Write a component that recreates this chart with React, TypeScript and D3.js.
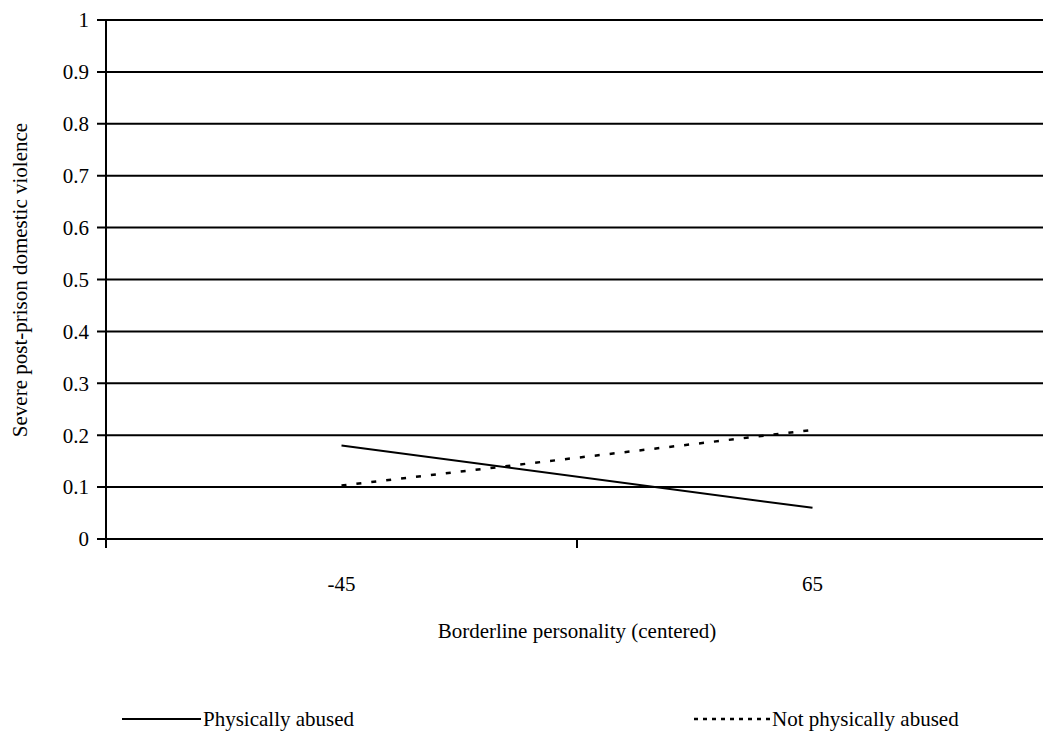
import React, { useEffect, useRef } from "react";
import * as d3 from "d3";

const categories = ["-45", "65"];
const physicallyAbused = [0.18, 0.06];
const notPhysicallyAbused = [0.103, 0.21];
const yTicks = [0, 0.1, 0.2, 0.3, 0.4, 0.5, 0.6, 0.7, 0.8, 0.9, 1];
const yTickLabels = ["0", "0.1", "0.2", "0.3", "0.4", "0.5", "0.6", "0.7", "0.8", "0.9", "1"];
const seriesNames = ["Physically abused", "Not physically abused"];

const W = 1043;
const H = 744;
const FONT = '"Liberation Serif", "Times New Roman", Tinos, serif';

export default function App() {
  const ref = useRef<SVGSVGElement>(null);

  useEffect(() => {
    const svg = d3.select(ref.current);
    svg.selectAll("*").remove();
    const x = d3.scaleBand<string>().domain(categories).range([106, 1048]).padding(0);
    const y = d3.scaleLinear().domain([0, 1]).range([539, 20]);
    const cx = (i: number) => (x(categories[i]) as number) + x.bandwidth() / 2;
    const line = d3
      .line<number>()
      .x((_, i) => cx(i))
      .y((d) => y(d));

    svg.append("rect").attr("width", W).attr("height", H).attr("fill", "#fff");

    const addText = (sel: any) =>
      sel.style("font-family", FONT).style("font-size", "21px").attr("fill", "#000");

    yTicks.forEach((t, i) => {
      svg
        .append("line")
        .attr("x1", 97)
        .attr("x2", 1048)
        .attr("y1", y(t))
        .attr("y2", y(t))
        .attr("stroke", "#000")
        .attr("stroke-width", 2);
      addText(
        svg
          .append("text")
          .attr("x", 89)
          .attr("y", y(t))
          .attr("dy", "0.35em")
          .attr("text-anchor", "end")
          .text(yTickLabels[i])
      );
    });

    svg
      .append("line")
      .attr("x1", 106)
      .attr("x2", 106)
      .attr("y1", y(1))
      .attr("y2", 548)
      .attr("stroke", "#000")
      .attr("stroke-width", 2);
    [0, 1, 2].forEach((k) => {
      const b = 106 + k * x.bandwidth();
      svg
        .append("line")
        .attr("x1", b)
        .attr("x2", b)
        .attr("y1", 539)
        .attr("y2", 548)
        .attr("stroke", "#000")
        .attr("stroke-width", 2);
    });
    categories.forEach((c, i) => {
      addText(svg.append("text").attr("x", cx(i)).attr("y", 591).attr("text-anchor", "middle").text(c));
    });
    addText(
      svg
        .append("text")
        .attr("x", 577)
        .attr("y", 638)
        .attr("text-anchor", "middle")
        .text("Borderline personality (centered)")
    );
    addText(
      svg
        .append("text")
        .attr("transform", "translate(27,280) rotate(-90)")
        .attr("text-anchor", "middle")
        .text("Severe post-prison domestic violence")
    );

    svg
      .append("path")
      .attr("d", line(physicallyAbused) || "")
      .attr("fill", "none")
      .attr("stroke", "#000")
      .attr("stroke-width", 2);
    svg
      .append("path")
      .attr("d", line(notPhysicallyAbused) || "")
      .attr("fill", "none")
      .attr("stroke", "#000")
      .attr("stroke-width", 2.5)
      .attr("stroke-dasharray", "5,10");

    svg
      .append("line")
      .attr("x1", 122)
      .attr("x2", 201)
      .attr("y1", 719)
      .attr("y2", 719)
      .attr("stroke", "#000")
      .attr("stroke-width", 2);
    addText(svg.append("text").attr("x", 203).attr("y", 719).attr("dy", "0.35em").text(seriesNames[0]));
    svg
      .append("line")
      .attr("x1", 694)
      .attr("x2", 772)
      .attr("y1", 719)
      .attr("y2", 719)
      .attr("stroke", "#000")
      .attr("stroke-width", 2.5)
      .attr("stroke-dasharray", "4,5");
    addText(svg.append("text").attr("x", 772).attr("y", 719).attr("dy", "0.35em").text(seriesNames[1]));
  }, []);

  return (
    <svg
      ref={ref}
      width={W}
      height={H}
      style={{ position: "absolute", left: 0, top: 0, background: "#fff" }}
    />
  );
}
